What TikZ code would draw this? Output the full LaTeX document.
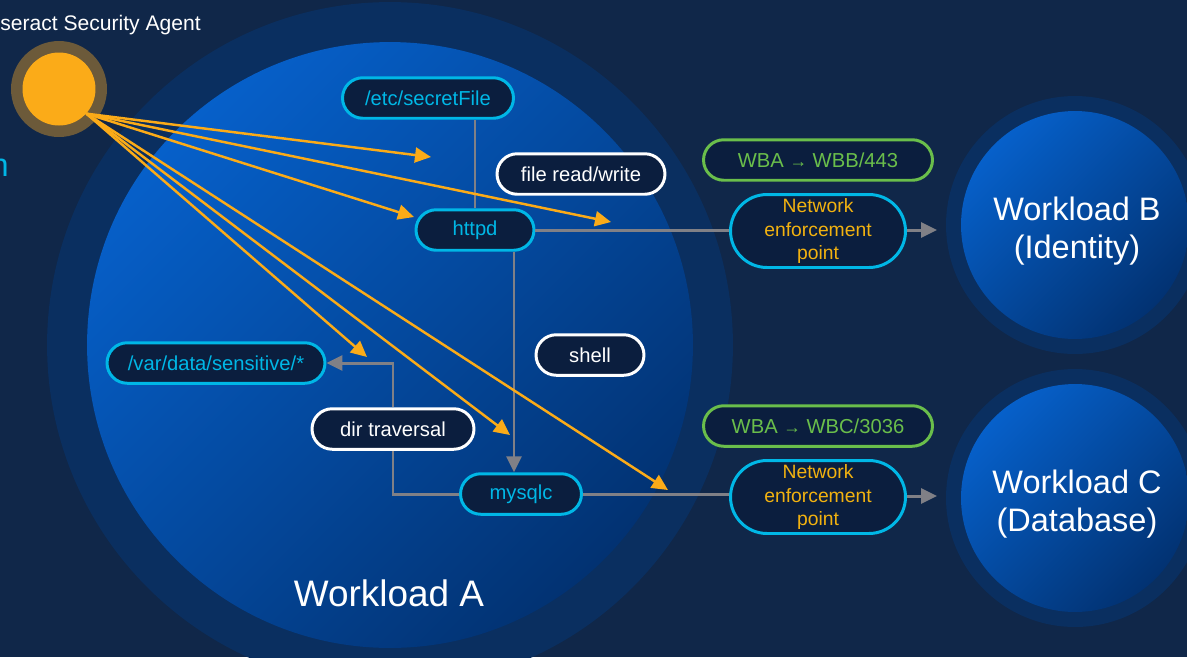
\documentclass[tikz,border=0pt]{standalone}
\usepackage{fontspec}
\setmainfont{Liberation Sans}
\usepackage{xcolor}
\usetikzlibrary{arrows.meta, positioning, shapes.misc}
\definecolor{navybg}{RGB}{16,39,73}
\definecolor{ringblue}{RGB}{10,47,96}
\definecolor{brightblue}{RGB}{6,96,202}
\definecolor{deepblue}{RGB}{2,50,114}
\definecolor{boxfill}{RGB}{11,30,62}
\definecolor{ciscocyan}{RGB}{0,183,230}
\definecolor{leafgreen}{RGB}{106,190,75}
\definecolor{agentorange}{RGB}{251,171,24}
\definecolor{nepgold}{RGB}{242,178,16}
\definecolor{agenthalo}{RGB}{108,90,58}
\definecolor{linkgray}{RGB}{128,128,134}

\begin{document}
\begin{tikzpicture}[x=0.02cm, y=-0.02cm, font=\fontsize{11.5}{13}\selectfont,
    pill/.style={rounded rectangle, draw=ciscocyan, line width=1.7pt, fill=boxfill,
        text=ciscocyan, inner sep=0pt, minimum height=0.81cm},
    action/.style={pill, draw=white, text=white},
    rule/.style={pill, draw=leafgreen, text=leafgreen, minimum width=4.58cm},
    nep/.style={pill, text=nepgold, minimum width=3.5cm, minimum height=1.46cm,
        align=center, font=\fontsize{11}{13.6}\selectfont},
    flow/.style={linkgray, line width=1.7pt},
    tip/.style={-{Triangle[length=0.32cm, width=0.3cm]}},
    probe/.style={agentorange, line width=1.4pt, tip},
    workload/.style={text=white, align=center, font=\fontsize{18.5}{22}\selectfont}]
    % Background
    \useasboundingbox (0,0) rectangle (1187,657);
    \clip (0,0) rectangle (1187,657);
    \fill[navybg] (0,0) rectangle (1187,657);
    % Workload circles
    \fill[ringblue] (390,345) circle (6.86cm);
    \shade[top color=brightblue, bottom color=deepblue, shading angle=45] (390,345) circle (6.06cm);
    \fill[ringblue] (1075,225) circle (2.58cm);
    \shade[top color=brightblue, bottom color=deepblue, shading angle=45] (1075,225) circle (2.28cm);
    \fill[ringblue] (1075,498) circle (2.58cm);
    \shade[top color=brightblue, bottom color=deepblue, shading angle=45] (1075,498) circle (2.28cm);
    \node[workload, font=\fontsize{21}{24}\selectfont] (wlA) at (389,593) {Workload A};
    \node[workload] (wlB) at (1077,231) {Workload B\\(Identity)};
    \node[workload] (wlC) at (1077,504) {Workload C\\(Database)};
    % Agent
    \fill[agenthalo] (59,89) circle (0.96cm);
    \node[circle, fill=agentorange, minimum size=1.46cm, inner sep=0pt] (agent) at (59,89) {};
    \node[anchor=base east, text=white, inner sep=0pt, font=\fontsize{12}{14}\selectfont] (agentLabel) at (201,30) {Tesseract Security Agent};
    \node[anchor=base east, text=ciscocyan, inner sep=0pt, font=\fontsize{18.5}{22}\selectfont] (sideLabel) at (9,176) {n};
    % Gray links (drawn below the boxes)
    \coordinate (outB) at (937,230);
    \coordinate (outC) at (937,496);
    \node[pill, minimum width=3.42cm] (secretFile) at (428,98) {/etc/secretFile};
    \node[pill, minimum width=2.36cm] (httpd) at (475,230) {httpd};
    \node[pill, minimum width=4.36cm] (varData) at (216,363) {/var/data/sensitive/*};
    \node[pill, minimum width=2.42cm] (mysqlc) at (521,494) {mysqlc};
    \node[nep] (nepB) at (818,231) {Network\\enforcement\\point};
    \node[nep] (nepC) at (818,497) {Network\\enforcement\\point};
    \node[rule] (ruleB) at (818,160) {WBA {\fontsize{10}{10}\selectfont→} WBB/443};
    \node[rule] (ruleC) at (818,426) {WBA {\fontsize{10}{10}\selectfont→} WBC/3036};
    \draw[flow] (httpd.north) -- (httpd.north |- secretFile.south);
    \draw[flow] (httpd.east) -- (httpd.east -| nepB.west);
    \draw[flow, tip] (nepB.east |- outB) -- (outB);
    \draw[flow, tip] ([xshift=0.78cm]httpd.south) -- ([xshift=0.78cm]httpd.south |- mysqlc.north);
    \draw[flow] (mysqlc.east) -- (mysqlc.east -| nepC.west);
    \draw[flow, tip] (nepC.east |- outC) -- (outC);
    \node[action, minimum width=3.24cm] (dirTrav) at (393,429) {dir traversal};
    \draw[flow] (mysqlc.west) -| (dirTrav.south);
    \draw[flow, tip] (dirTrav.north) |- (varData.east);
    % Actions
    \node[action, minimum width=3.36cm] (fileRW) at (581,174) {file read/write};
    \node[action, minimum width=2.16cm] (shellAct) at (590,355) {shell};
    % Agent probes
    \coordinate (p1) at (431,157);
    \coordinate (p2) at (414,217);
    \coordinate (p3) at (611,222);
    \coordinate (p4) at (367,357);
    \coordinate (p5) at (510,435);
    \coordinate (p6) at (668,490);
    \foreach \p in {p1,p2,p3,p4,p5,p6}
        \draw[probe] (agent.-42) -- (\p);
\end{tikzpicture}
\end{document}
